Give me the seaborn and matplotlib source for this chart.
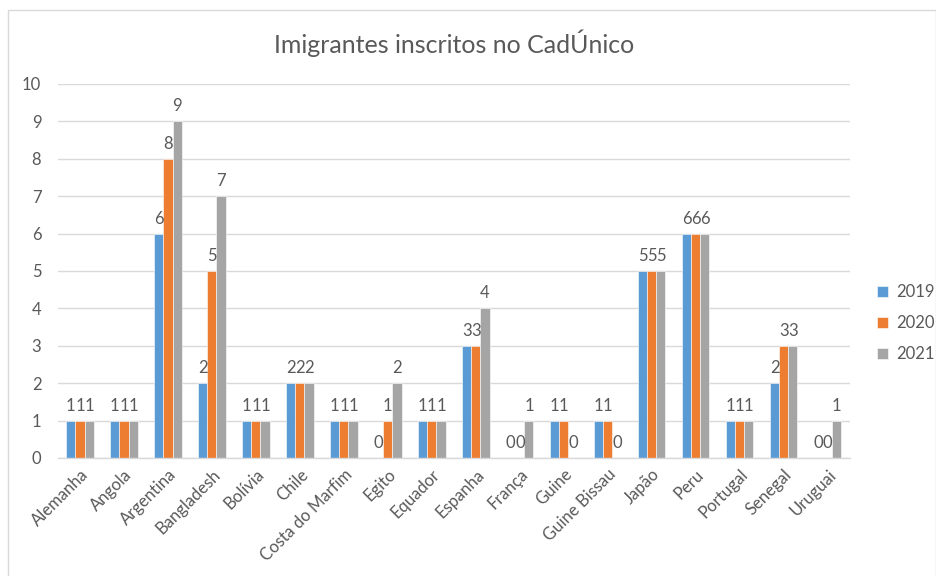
import matplotlib
matplotlib.use("Agg")
import matplotlib.pyplot as plt
import seaborn as sns
import pandas as pd
from matplotlib.patches import Rectangle

countries = ["Alemanha", "Angola", "Argentina", "Bangladesh", "Bolívia", "Chile",
             "Costa do Marfim", "Egito", "Equador", "Espanha", "França", "Guine",
             "Guine Bissau", "Japão", "Peru", "Portugal", "Senegal", "Uruguai"]
v2019 = [1, 1, 6, 2, 1, 2, 1, 0, 1, 3, 0, 1, 1, 5, 6, 1, 2, 0]
v2020 = [1, 1, 8, 5, 1, 2, 1, 1, 1, 3, 0, 1, 1, 5, 6, 1, 3, 0]
v2021 = [1, 1, 9, 7, 1, 2, 1, 2, 1, 4, 1, 0, 0, 5, 6, 1, 3, 1]
years = ["2019", "2020", "2021"]
colors = ["#5B9BD5", "#ED7D31", "#A5A5A5"]

rows = []
for y, vals in zip(years, [v2019, v2020, v2021]):
    for c, v in zip(countries, vals):
        rows.append({"País": c, "Ano": y, "Valor": v})
df = pd.DataFrame(rows)

sns.set_theme(style="white")
plt.rcParams["font.family"] = ["Lato", "DejaVu Sans"]
txt = "#595959"

fig = plt.figure(figsize=(9.37, 5.76), dpi=100)
ax = fig.add_axes([0.0619, 0.2049, 0.845, 0.6493])

sns.barplot(data=df, x="País", y="Valor", hue="Ano", palette=colors,
            width=0.62, ax=ax, edgecolor="white", linewidth=0.4, saturation=1)

ax.set_ylim(0, 10)
ax.set_yticks(range(0, 11))
ax.yaxis.grid(True, color="#D9D9D9", linewidth=1)
ax.set_axisbelow(True)
for s in ["top", "right", "left"]:
    ax.spines[s].set_visible(False)
ax.spines["bottom"].set_color("#D9D9D9")
ax.spines["bottom"].set_linewidth(1)
ax.set_xlabel("")
ax.set_ylabel("")
ax.tick_params(axis="both", length=0, colors=txt, labelsize=12)
ax.tick_params(axis="y", pad=12)
ax.tick_params(axis="x", pad=6)
plt.setp(ax.get_xticklabels(), rotation=45, ha="right", rotation_mode="anchor")
ax.set_xlim(-0.5, len(countries) - 0.5)

for cont in ax.containers:
    ax.bar_label(cont, fmt="%d", color=txt, fontsize=12, padding=5)

ax.set_title("Imigrantes inscritos no CadÚnico", color=txt, fontsize=18, pad=22)

leg = ax.legend(loc="center left", bbox_to_anchor=(1.015, 0.36), frameon=False,
                fontsize=12, handlelength=0.7, handleheight=0.7, labelspacing=0.9,
                handletextpad=0.5)
for t in leg.get_texts():
    t.set_color(txt)

fig.patches.append(Rectangle((0.009, -0.01), 0.99, 0.993, transform=fig.transFigure,
                             fill=False, edgecolor="#D9D9D9", linewidth=1))

fig.savefig("out.png", dpi=100)
